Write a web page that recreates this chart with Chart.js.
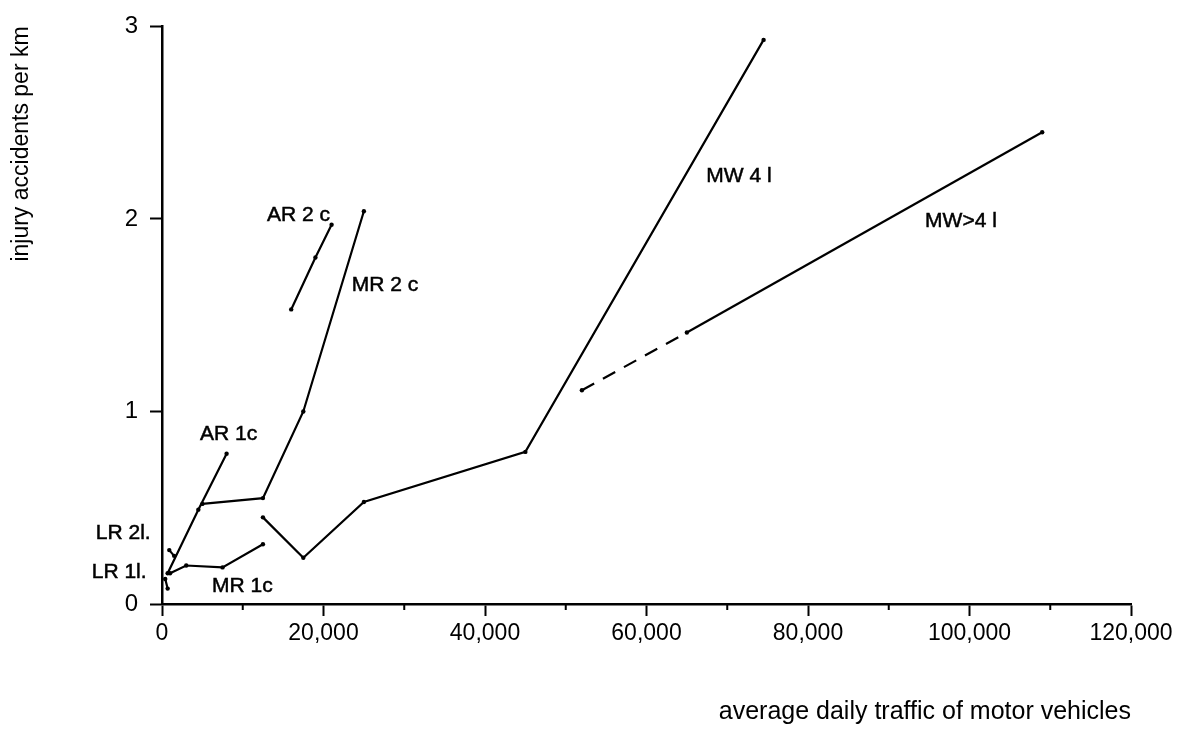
<!DOCTYPE html>
<html>
<head>
<meta charset="utf-8">
<script src="https://cdn.jsdelivr.net/npm/chart.js@4/dist/chart.umd.min.js"></script>
<style>
  html, body { margin: 0; padding: 0; background: #fff; }
  #wrap { width: 1182px; height: 742px; }
</style>
</head>
<body>
<div id="wrap"><canvas id="chart"></canvas></div>
<script>
// traffic (vehicles/day) and injury accidents per km
const lr1Traffic = [400, 700];
const lr1Accidents = [0.13, 0.08];
const lr2Traffic = [900, 1500];
const lr2Accidents = [0.28, 0.25];
const mr1Traffic = [1000, 3000, 7500, 12500];
const mr1Accidents = [0.16, 0.2, 0.19, 0.31];
const ar1Traffic = [700, 4500, 8000];
const ar1Accidents = [0.16, 0.49, 0.78];
const mr2Traffic = [5000, 12500, 17500, 25000];
const mr2Accidents = [0.52, 0.55, 1.0, 2.04];
const ar2Traffic = [16000, 19000, 21000];
const ar2Accidents = [1.53, 1.8, 1.97];
const mw4Traffic = [12500, 17500, 25000, 45000, 74500];
const mw4Accidents = [0.45, 0.24, 0.53, 0.79, 2.93];
const mwMoreTraffic = [52000, 65000, 109000];
const mwMoreAccidents = [1.11, 1.41, 2.45];

// curve names and where they sit (data units)
const labelTexts = ['LR 2l.', 'LR 1l.', 'MR 1c', 'AR 1c', 'AR 2 c', 'MR 2 c', 'MW 4 l', 'MW>4 l'];
const labelTraffic = [-8200, -8700, 6200, 4700, 13000, 23500, 67400, 94500];
const labelAccidents = [0.366, 0.165, 0.093, 0.88, 2.02, 1.655, 2.22, 1.99];

const FONT = "'Liberation Sans', Arial, Helvetica, sans-serif";

const toPoints = (xs, ys) => xs.map((x, i) => ({ x: x, y: ys[i] }));

const line = (name, xs, ys, extra) => Object.assign({
    label: name,
    data: toPoints(xs, ys),
    showLine: true,
    borderColor: '#000',
    backgroundColor: '#000',
    borderWidth: 2.2,
    pointRadius: 2.2,
    pointBorderWidth: 0,
}, extra || {});

const curveLabels = {
    id: 'curveLabels',
    afterDatasetsDraw(chart) {
        const { ctx, scales: { x, y } } = chart;
        ctx.save();
        ctx.font = '21px ' + FONT;
        ctx.fillStyle = '#000';
        ctx.strokeStyle = '#000';
        ctx.lineWidth = 0.5;
        ctx.textAlign = 'left';
        ctx.textBaseline = 'middle';
        labelTexts.forEach((t, i) => {
            const px = x.getPixelForValue(labelTraffic[i]);
            const py = y.getPixelForValue(labelAccidents[i]);
            ctx.fillText(t, px, py);
            ctx.strokeText(t, px, py);
        });
        ctx.restore();
    }
};

// short ticks between the labelled ones on the x axis
const minorTicks = {
    id: 'minorTicks',
    afterDraw(chart) {
        const { ctx, scales: { x }, chartArea } = chart;
        ctx.save();
        ctx.strokeStyle = '#000';
        ctx.lineWidth = 2;
        for (let v = 10000; v < 120000; v += 20000) {
            const px = x.getPixelForValue(v);
            ctx.beginPath();
            ctx.moveTo(px, chartArea.bottom);
            ctx.lineTo(px, chartArea.bottom + 6);
            ctx.stroke();
        }
        ctx.restore();
    }
};

new Chart(document.getElementById('chart'), {
    type: 'scatter',
    data: {
        datasets: [
            line('LR 1l', lr1Traffic, lr1Accidents),
            line('LR 2l', lr2Traffic, lr2Accidents),
            line('MR 1c', mr1Traffic, mr1Accidents),
            line('AR 1c', ar1Traffic, ar1Accidents),
            line('MR 2c', mr2Traffic, mr2Accidents),
            line('AR 2c', ar2Traffic, ar2Accidents),
            line('MW 4l', mw4Traffic, mw4Accidents),
            line('MW>4l', mwMoreTraffic, mwMoreAccidents, {
                segment: { borderDash: ctx => ctx.p0DataIndex === 0 ? [14, 10] : undefined },
            }),
        ],
    },
    options: {
        responsive: true,
        maintainAspectRatio: false,
        animation: false,
        layout: { padding: { left: 0, top: 22, right: 51, bottom: 0 } },
        plugins: {
            legend: { display: false },
            tooltip: { enabled: false },
        },
        scales: {
            x: {
                type: 'linear',
                min: 0,
                max: 120000,
                afterFit: s => { s.height = 138; },
                border: { color: '#000', width: 2.5 },
                grid: {
                    drawOnChartArea: false,
                    tickLength: 12,
                    tickWidth: 2,
                    tickColor: c => (c.tick && c.tick.value % 20000 === 0) ? '#000' : 'rgba(0,0,0,0)',
                },
                ticks: {
                    stepSize: 10000,
                    padding: 4,
                    color: '#000',
                    font: { family: FONT, size: 23 },
                    maxRotation: 0,
                    autoSkip: false,
                    callback: v => v % 20000 === 0 ? v.toLocaleString('en-US') : '',
                },
                title: {
                    display: true,
                    text: 'average daily traffic of motor vehicles',
                    align: 'end',
                    color: '#000',
                    font: { family: FONT, size: 25 },
                    padding: { top: 0, bottom: 15 },
                },
            },
            y: {
                min: 0,
                max: 3,
                afterFit: s => { s.width = 162; },
                border: { color: '#000', width: 2.5 },
                grid: {
                    drawOnChartArea: false,
                    tickLength: 12,
                    tickWidth: 2,
                    tickColor: '#000',
                },
                ticks: {
                    stepSize: 1,
                    padding: 12,
                    color: '#000',
                    font: { family: FONT, size: 24 },
                },
                title: {
                    display: true,
                    text: 'injury accidents per km',
                    align: 'end',
                    color: '#000',
                    font: { family: FONT, size: 23 },
                    padding: { top: 8, bottom: 0 },
                },
            },
        },
    },
    plugins: [curveLabels, minorTicks],
});
</script>
</body>
</html>
